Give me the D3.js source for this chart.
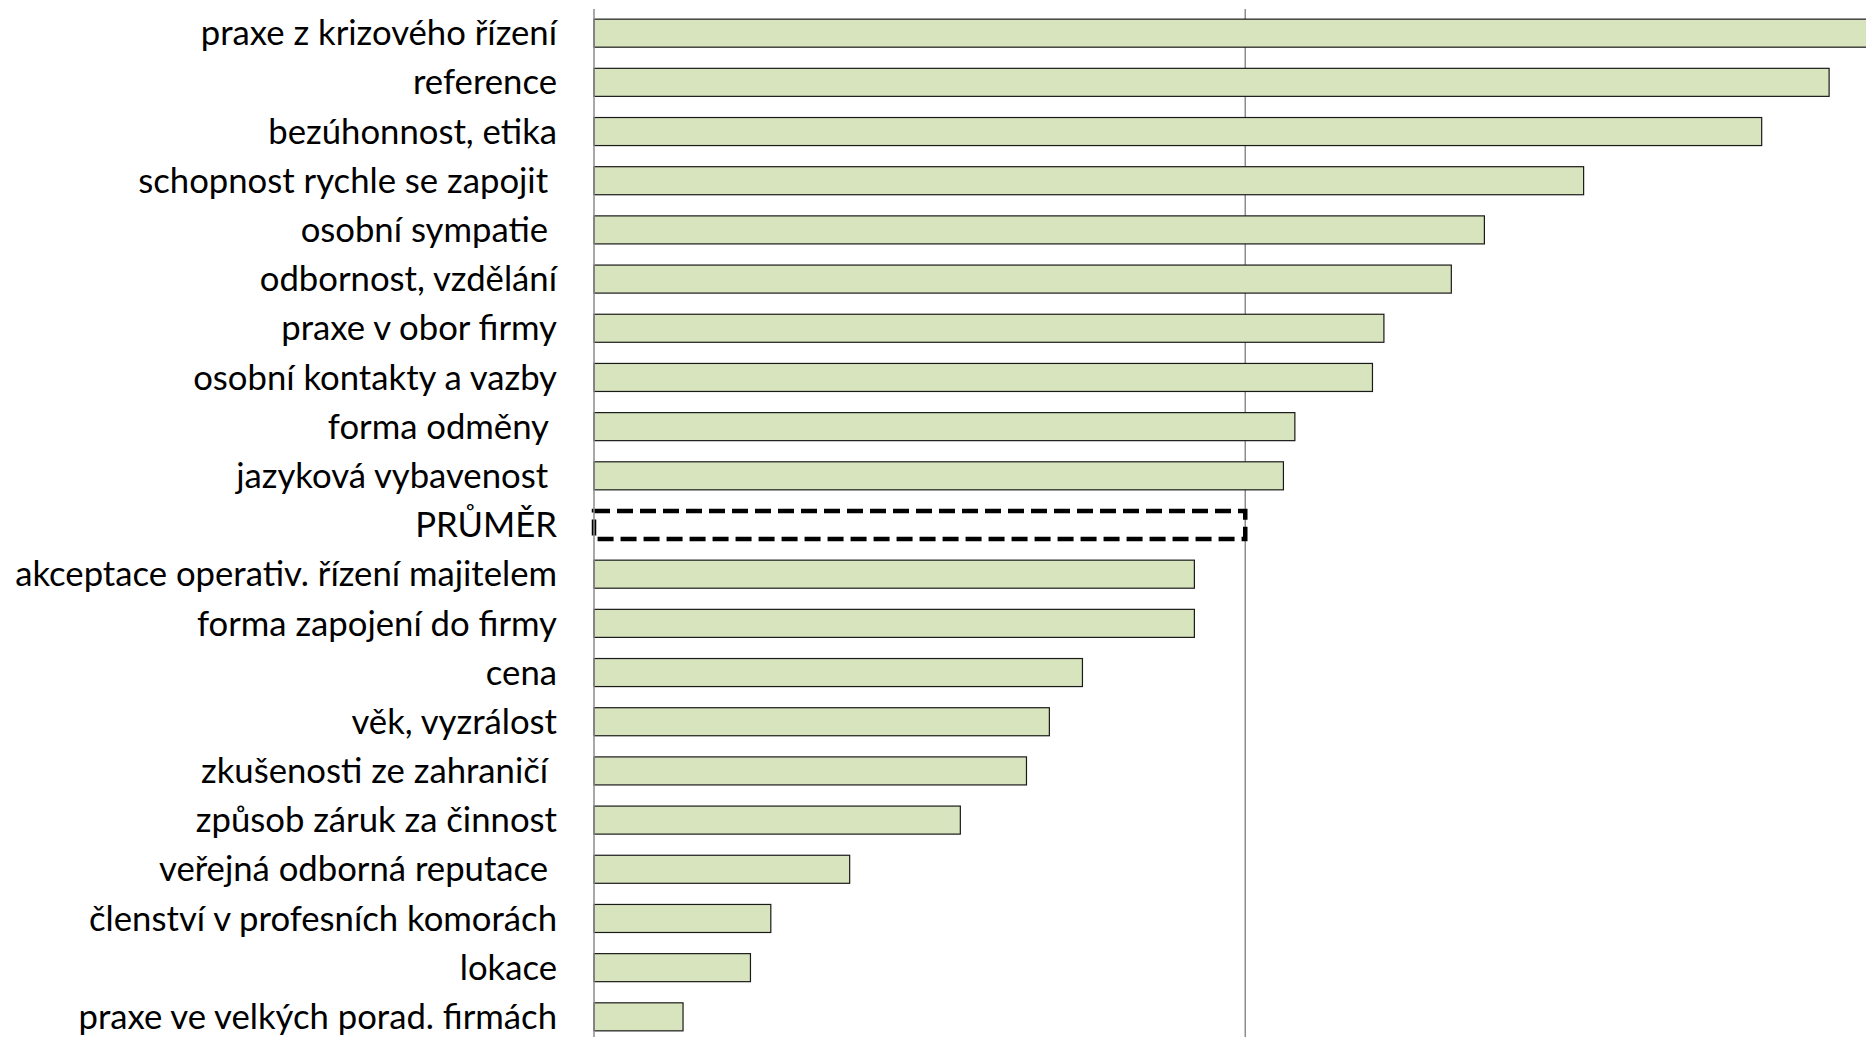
<!DOCTYPE html>
<html>
<head>
<meta charset="utf-8">
<script src="https://cdn.jsdelivr.net/npm/d3@7"></script>
<style>
  body { margin: 0; background: #fff; }
  .label { font-family: Lato, "Noto Sans", sans-serif; white-space: pre; fill: #000; }
</style>
</head>
<body>
<div id="chart"></div>
<script>
// categories top to bottom (trailing spaces are in the original labels)
var categories = [
    "praxe z krizového řízení",
    "reference",
    "bezúhonnost, etika",
    "schopnost rychle se zapojit ",
    "osobní sympatie ",
    "odbornost, vzdělání",
    "praxe v obor firmy",
    "osobní kontakty a vazby",
    "forma odměny ",
    "jazyková vybavenost ",
    "PRŮMĚR",
    "akceptace operativ. řízení majitelem",
    "forma zapojení do firmy",
    "cena",
    "věk, vyzrálost",
    "zkušenosti ze zahraničí ",
    "způsob záruk za činnost",
    "veřejná odborná reputace ",
    "členství v profesních komorách",
    "lokace",
    "praxe ve velkých porad. firmách"
];
var values = [102, 97.1, 91.8, 77.8, 70.0, 67.4, 62.1, 61.2, 55.1, 54.2, 51.2,
              47.2, 47.2, 38.4, 35.8, 34.0, 28.8, 20.1, 13.9, 12.3, 7.0];
var averageLabel = "PRŮMĚR";

var data = categories.map(function(c, i) { return { name: c, value: values[i] }; });
var avgValue = values[categories.indexOf(averageLabel)];

var width = 1866, height = 1037;
var axisX = 594;

var svg = d3.select("#chart")
    .append("svg")
    .attr("width", width)
    .attr("height", height);

var x = d3.scaleLinear()
    .domain([0, 100])
    .range([axisX, 1866]);

var y = d3.scaleBand()
    .domain(categories)
    .range([-2, 1052])
    .padding(0.43);

// average line
svg.append("line")
    .attr("x1", x(avgValue)).attr("x2", x(avgValue))
    .attr("y1", 9).attr("y2", height)
    .attr("stroke", "#8c8c8c")
    .attr("stroke-width", 1.5);

// bars
svg.append("g")
    .selectAll("rect")
    .data(data.filter(function(d) { return d.name !== averageLabel; }))
    .enter()
    .append("rect")
        .attr("x", x(0))
        .attr("y", function(d) { return y(d.name); })
        .attr("width", function(d) { return x(d.value) - x(0); })
        .attr("height", y.bandwidth())
        .attr("fill", "#d7e4bd")
        .attr("stroke", "#1a1a1a")
        .attr("stroke-width", 1.2);

// dashed average bar
svg.append("rect")
    .attr("x", x(0))
    .attr("y", y(averageLabel))
    .attr("width", x(avgValue) - x(0))
    .attr("height", y.bandwidth())
    .attr("fill", "none")
    .attr("stroke", "#000")
    .attr("stroke-width", 4.5)
    .attr("stroke-dasharray", "16,7");

// category axis line
svg.append("line")
    .attr("x1", axisX).attr("x2", axisX)
    .attr("y1", 9).attr("y2", height)
    .attr("stroke", "#8c8c8c")
    .attr("stroke-width", 1.5);

// labels
var labels = svg.append("g")
    .selectAll("text")
    .data(categories)
    .enter()
    .append("text")
        .attr("class", "label")
        .attr("x", axisX - 37)
        .attr("y", function(d) { return y(d) + y.bandwidth() / 2; })
        .attr("dy", "0.35em")
        .attr("text-anchor", "end")
        .style("font-size", "30px")
        .text(function(d) { return d; });

// fit font size so the widest label spans like the original
var widest = labels.filter(function(d) { return d === "akceptace operativ. řízení majitelem"; }).node();
var w = widest.getComputedTextLength();
labels.style("font-size", (30 * 542 / w).toFixed(2) + "px");
</script>
</body>
</html>
